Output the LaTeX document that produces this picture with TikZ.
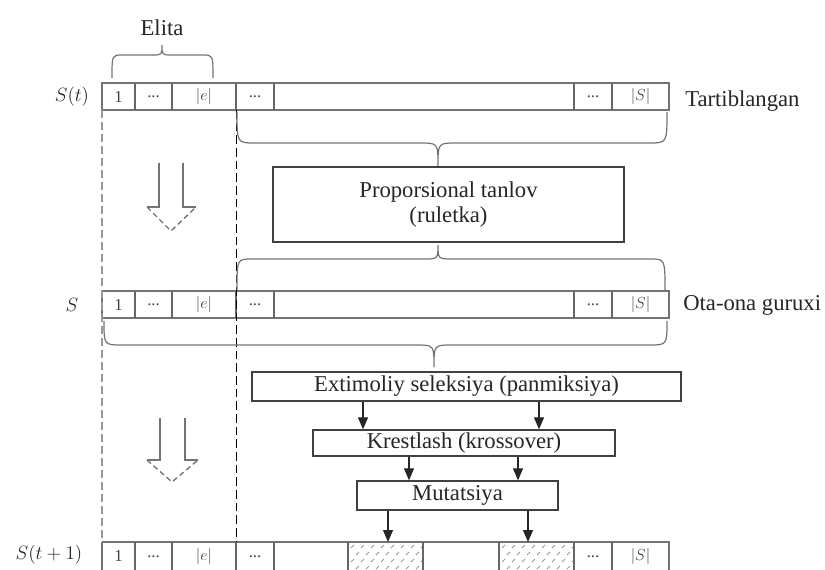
\documentclass[tikz,border=0pt]{standalone}
\usepackage{fontspec}
\setmainfont{Liberation Serif}
\usetikzlibrary{arrows.meta}
\begin{document}
\begin{tikzpicture}[x=0.75pt,y=-0.75pt,
  font=\fontsize{17}{18.5}\selectfont,
  rowline/.style={draw=black!55, line width=1.4pt},
  sepline/.style={draw=black!60, line width=0.9pt},
  celltext/.style={font=\fontsize{12.5}{14}\selectfont, text=black!75, inner sep=0pt},
  procbox/.style={draw=black!75, line width=1pt, fill=white, inner sep=0pt, align=center, text=black!85},
  bracel/.style={draw=black!55, line width=0.9pt},
  flow/.style={-{Triangle[length=9pt,width=7.5pt]}, draw=black!85, line width=0.8pt},
  hollow/.style={draw=black!55, line width=1pt},
  lbl/.style={text=black!85, inner sep=0pt, font=\fontsize{14.5}{16}\selectfont}
]
\useasboundingbox (0,0) rectangle (825,569);

\newcommand\poprow[2]{%
  \draw[rowline] (102,#2) rectangle (669,{#2+27});
  \foreach \xx in {135,172,236,274,574,612}
    \draw[sepline] (\xx,#2) -- (\xx,{#2+27});
  \node[celltext] (#1c1) at (118.5,{#2+13.5}) {1};
  \node[celltext] (#1c2) at (153.5,{#2+14}) {...};
  \node[celltext] (#1c3) at (204,{#2+13.5}) {$|e|$};
  \node[celltext] (#1c4) at (255,{#2+14}) {...};
  \node[celltext] (#1c5) at (593,{#2+14}) {...};
  \node[celltext] (#1c6) at (640.5,{#2+13.5}) {$|S|$};
}
\newcommand\cbrace[7]{% x1 x2 xm yend yh ytip r
  \draw[bracel] (#1,#4) .. controls (#1,#5) .. ({#1+#7},#5) -- ({#3-#7},#5)
    .. controls (#3,#5) .. (#3,#6) .. controls (#3,#5) .. ({#3+#7},#5)
    -- ({#2-#7},#5) .. controls (#2,#5) .. (#2,#4);
}

% hatched cells of row 3
\foreach \hx/\hw in {348/75,499/75}{
  \begin{scope}
    \clip (\hx,542) rectangle ({\hx+\hw},569);
    \foreach \i in {0,...,7}
      \foreach \j in {0,...,3}
        \draw[black!40, line width=0.7pt]
          ({\hx+3+\i*10+mod(\j,2)*5},{548+\j*7}) -- ++(3,-3);
  \end{scope}
}

% rows
\poprow{ra}{83}
\poprow{rb}{291}
\draw[rowline] (102,542) -- (669,542) -- (669,575) (102,575) -- (102,542);
\foreach \xx in {135,172,236,274,348,423,499,574,612}
  \draw[sepline] (\xx,542) -- (\xx,575);
\node[celltext] (rcc1) at (118.5,556) {1};
\node[celltext] (rcc2) at (153.5,557) {...};
\node[celltext] (rcc3) at (204,556) {$|e|$};
\node[celltext] (rcc4) at (255,557) {...};
\node[celltext] (rcc5) at (593,557) {...};
\node[celltext] (rcc6) at (640.5,556) {$|S|$};

% dashed verticals
\draw[draw=black!40, line width=1pt, dash pattern=on 6pt off 3pt] (102,110) -- (102,542);
\draw[draw=black, line width=1.1pt, dash pattern=on 6.5pt off 3pt] (236.5,110) -- (236.5,542);

% labels
\node[lbl] (lst) at (72,97) {$S(t)$};
\node[lbl] (ls) at (72,305) {$S$};
\node[lbl] (lst1) at (49,555) {$S(t+1)$};
\node[anchor=west, text=black!85, inner sep=0pt] (ltart) at (685,101) {Tartiblangan};
\node[anchor=west, text=black!85, inner sep=0pt] (lota) at (683,305) {Ota-ona guruxi};
\node[text=black!85, inner sep=0pt] (lelita) at (162,28) {Elita};

% braces
\cbrace{112}{213}{162}{78}{55}{45}{10}
\cbrace{237}{667}{438}{112}{143}{166}{18}
\cbrace{237}{665}{438}{290}{259}{245}{15}
\cbrace{104}{667}{434}{321}{345}{367}{18}

% process boxes
\node[procbox, minimum width=263.25pt, minimum height=56.25pt] (prop) at (448.5,204.5)
  {Proporsional tanlov\\(ruletka)};
\node[procbox, minimum width=321.75pt, minimum height=21.75pt] (ext) at (466.5,386.5)
  {Extimoliy seleksiya (panmiksiya)};
\node[procbox, minimum width=226.5pt, minimum height=19.5pt] (kr) at (464,443)
  {Krestlash (krossover)};
\node[procbox, minimum width=150.75pt, minimum height=21.75pt] (mut) at (457.5,495.5)
  {Mutatsiya};

% arrow columns
\coordinate (xa) at (363,0);
\coordinate (xb) at (539,0);
\coordinate (xc) at (409,0);
\coordinate (xd) at (518,0);
\coordinate (ta) at (388,542);
\coordinate (tb) at (528,542);
\draw[flow] (ext.south -| xa) -- (kr.north -| xa);
\draw[flow] (ext.south -| xb) -- (kr.north -| xb);
\draw[flow] (kr.south -| xc) -- (mut.north -| xc);
\draw[flow] (kr.south -| xd) -- (mut.north -| xd);
\draw[flow] (mut.south -| ta) -- (ta);
\draw[flow] (mut.south -| tb) -- (tb);

% hollow arrows
\draw[hollow] (159,163) -- (159,207) -- (147,207);
\draw[hollow] (183,163) -- (183,207) -- (196,207);
\draw[hollow, dash pattern=on 4pt off 2.5pt] (147,207) -- (171,231) -- (196,207);
\draw[hollow] (160,418) -- (160,460) -- (147,460);
\draw[hollow] (185,418) -- (185,460) -- (198,460);
\draw[hollow, dash pattern=on 4pt off 2.5pt] (147,460) -- (172,482) -- (198,460);
\end{tikzpicture}
\end{document}
